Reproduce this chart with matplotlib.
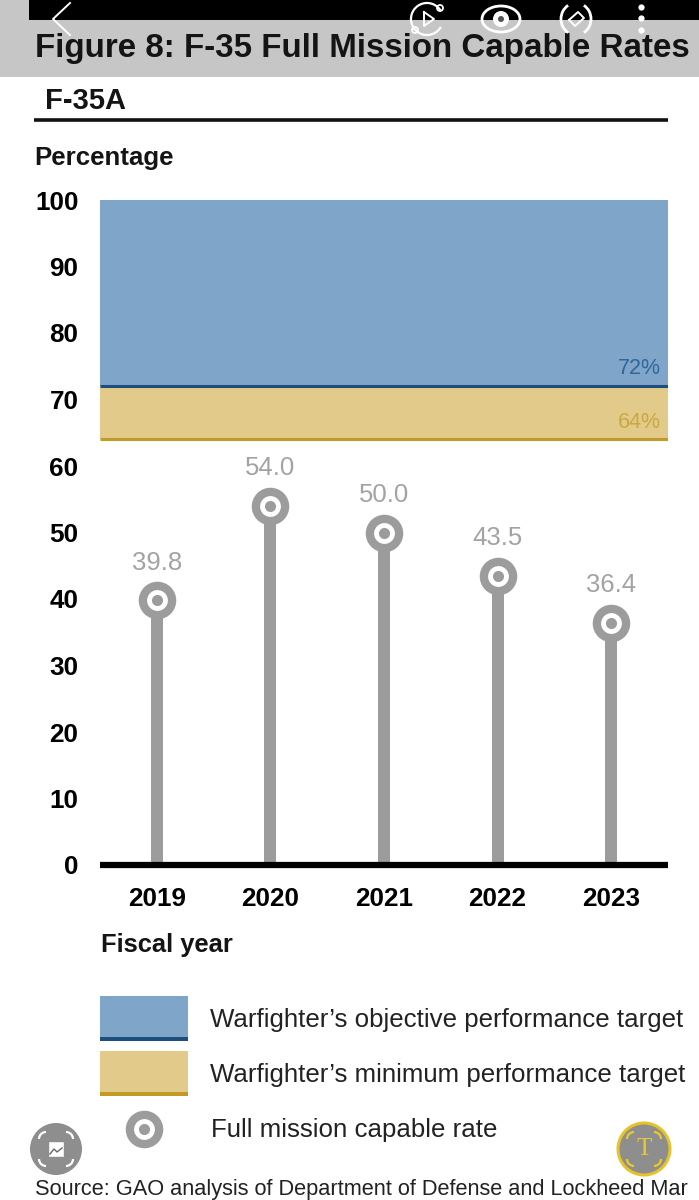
import matplotlib
matplotlib.use('Agg')
import matplotlib.pyplot as plt
from matplotlib.patches import Rectangle, Circle, Arc

plt.rcParams['font.family'] = ['Liberation Sans', 'DejaVu Sans']

years = ['2019', '2020', '2021', '2022', '2023']
rates = [39.8, 54.0, 50.0, 43.5, 36.4]
objective = 72
minimum = 64
yticks = [0, 10, 20, 30, 40, 50, 60, 70, 80, 90, 100]

BLUE = '#7fa6c9'
DARKBLUE = '#1c4f7c'
TAN = '#e2ca8a'
DARKTAN = '#c49a26'
GREY = '#9c9c9c'
W, H = 699, 1200

fig = plt.figure(figsize=(6.99, 12), dpi=100, facecolor='white')

# overlay in pixel coordinates for header, legend and phone buttons
bg = fig.add_axes([0, 0, 1, 1], zorder=0)
bg.set_xlim(0, W)
bg.set_ylim(H, 0)
bg.axis('off')

ax = fig.add_axes([100 / W, 1 - 865 / H, 568 / W, 665 / H], zorder=1)
ax.patch.set_alpha(0)
ax.set_xlim(-0.5, 4.5)
ax.set_ylim(0, 100)

# target bands
ax.axhspan(objective, 100, color=BLUE, lw=0)
ax.axhspan(minimum, objective, color=TAN, lw=0)
ax.axhline(objective, color=DARKBLUE, lw=2.2, solid_capstyle='butt')
ax.axhline(minimum, color=DARKTAN, lw=2.2, solid_capstyle='butt')
ax.text(4.44, objective + 1.1, '72%', color='#2f669c', fontsize=15.5, ha='right', va='bottom')
ax.text(4.44, minimum + 1.0, '64%', color='#c9a93f', fontsize=15.5, ha='right', va='bottom')

# lollipops
ax.bar(range(len(years)), rates, width=0.105, color=GREY, lw=0, zorder=2)
ax.plot(range(len(years)), rates, 'o', ms=21, mfc='white', mec=GREY, mew=6, zorder=3)
ax.plot(range(len(years)), rates, 'o', ms=8, color=GREY, mew=0, zorder=4)
for i, r in enumerate(rates):
    ax.annotate(f'{r:.1f}', (i, r), xytext=(0, 18.5), textcoords='offset points',
                ha='center', va='bottom', color='#a3a3a3', fontsize=18.5)

for s in ['top', 'right', 'left']:
    ax.spines[s].set_visible(False)
ax.spines['bottom'].set_linewidth(4.5)
ax.spines['bottom'].set_color('black')
ax.spines['bottom'].set_capstyle('butt')
ax.set_yticks(yticks)
ax.set_xticks(range(len(years)))
ax.set_xticklabels(years)
ax.tick_params(length=0, labelsize=18.8, pad=16)
ax.tick_params(axis='y', pad=15.5)
for lab in ax.get_xticklabels() + ax.get_yticklabels():
    lab.set_fontweight('bold')
for lab in ax.get_yticklabels():
    lab.set_ha('right')

# header
bg.add_patch(Rectangle((0, 0), W, 77, color='#c6c6c6', lw=0))
bg.add_patch(Rectangle((29, 0), W - 29, 20, color='black', lw=0))
bg.text(35, 48, 'Figure 8: F-35 Full Mission Capable Rates', fontsize=23.9, fontweight='bold',
        color='#141414', va='center', ha='left')
bg.text(45, 101, 'F-35A', fontsize=21, fontweight='bold', color='#141414', va='center')
bg.plot([34, 668], [120, 120], color='#111111', lw=2.6, solid_capstyle='butt')
bg.text(34, 158, 'Percentage', fontsize=18.6, fontweight='bold', color='#141414', va='center')
bg.text(101, 945, 'Fiscal year', fontsize=18.4, fontweight='bold', color='#141414', va='center')

# legend
bg.add_patch(Rectangle((100, 996), 88, 43, color=BLUE, lw=0))
bg.add_patch(Rectangle((100, 1037), 88, 4, color=DARKBLUE, lw=0))
bg.add_patch(Rectangle((100, 1051), 88, 43, color=TAN, lw=0))
bg.add_patch(Rectangle((100, 1092), 88, 4, color=DARKTAN, lw=0))
bg.plot([144], [1129], 'o', ms=21, mfc='white', mec=GREY, mew=6)
bg.plot([144], [1129], 'o', ms=8, color=GREY, mew=0)
bg.text(210, 1020, 'Warfighter\u2019s objective performance target', fontsize=18.6, color='#222222', va='center')
bg.text(210, 1075, 'Warfighter\u2019s minimum performance target', fontsize=18.6, color='#222222', va='center')
bg.text(211, 1130, 'Full mission capable rate', fontsize=18.6, color='#222222', va='center')
bg.text(35, 1190, 'Source: GAO analysis of Department of Defense and Lockheed Mar',
        fontsize=15.7, color='#222222', va='center')

# phone viewer buttons drawn on top of the screenshot
top = fig.add_axes([0, 0, 1, 1], zorder=2)
top.set_xlim(0, W)
top.set_ylim(H, 0)
top.axis('off')
top.patch.set_alpha(0)
top.plot([70, 53, 70], [3, 19, 35], color='white', lw=1.4)
top.add_patch(Arc((427, 19), 32, 32, theta1=30, theta2=330, color='white', lw=1.6))
top.plot([424, 434, 424, 424], [12, 19, 26, 12], color='white', lw=1.4)
top.add_patch(Circle((440, 8), 3, fc='none', ec='white', lw=1.3))
top.add_patch(Circle((415, 30), 3, fc='none', ec='white', lw=1.3))
top.add_patch(Arc((501, 19), 38, 26, color='white', lw=2))
top.add_patch(Circle((501, 19), 8, color='white', lw=0))
top.add_patch(Circle((501, 19), 3, color='#555555', lw=0))
top.add_patch(Arc((576, 19), 30, 32, theta1=-60, theta2=60, color='white', lw=2))
top.add_patch(Arc((576, 19), 30, 32, theta1=120, theta2=240, color='white', lw=2))
top.plot([569, 578, 584, 575, 569], [20, 12, 18, 26, 20], color='white', lw=1.4)
top.plot([641, 641, 641], [7, 18, 30], 'o', ms=4.5, color='white', mew=0)

top.add_patch(Circle((56, 1149), 26, color='#8e8e8e', lw=0))
for dx, dy, t1 in [(-10, -10, 180), (10, -10, 270), (10, 10, 0), (-10, 10, 90)]:
    top.add_patch(Arc((56 + dx, 1149 + dy), 14, 14, theta1=t1, theta2=t1 + 90, color='white', lw=1.6))
top.add_patch(Rectangle((48, 1141), 16, 16, fc='white', ec='#8e8e8e', lw=1))
top.plot([50, 54, 57, 62], [1154, 1149, 1152, 1148], color='#666666', lw=1)

top.add_patch(Circle((644, 1149), 26, fc='#8e8e8e', ec='#e6c32a', lw=2.2))
for dx, dy, t1 in [(-10, -10, 180), (10, -10, 270), (10, 10, 0), (-10, 10, 90)]:
    top.add_patch(Arc((644 + dx, 1149 + dy), 14, 14, theta1=t1, theta2=t1 + 90, color='#ecc92b', lw=1.6))
top.text(644, 1149, 'T', fontsize=18, family='Liberation Serif', color='#ecc92b', ha='center', va='center')

fig.savefig('out.png', dpi=100)
